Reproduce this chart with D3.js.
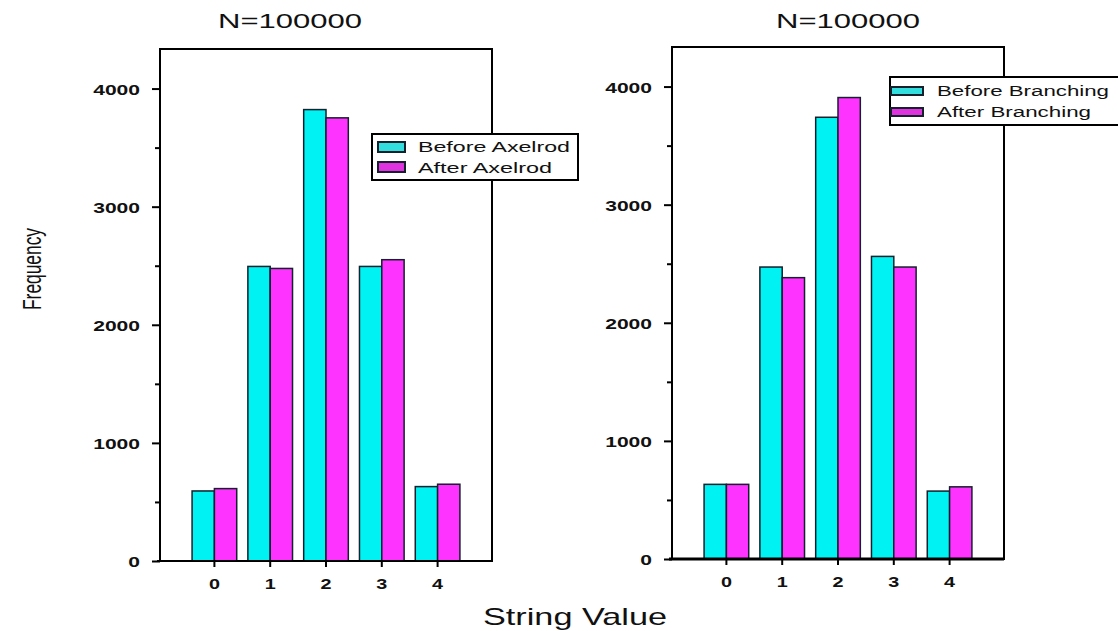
<!DOCTYPE html>
<html>
<head>
<meta charset="utf-8">
<script src="https://cdn.jsdelivr.net/npm/d3@7"></script>
<style>
  html, body { margin: 0; padding: 0; background: #fff; }
  svg { display: block; }
  text { font-family: "Liberation Sans", Arial, sans-serif; fill: #111; }
</style>
</head>
<body>
<svg id="chart" width="1118" height="631"></svg>
<script>
// ---- data ----
const categories = ["0", "1", "2", "3", "4"];
const beforeAxelrod   = [593, 2494, 3822, 2494, 630];
const afterAxelrod    = [613, 2477, 3752, 2551, 650];
const beforeBranching = [632, 2472, 3740, 2562, 575];
const afterBranching  = [632, 2382, 3907, 2472, 611];
const yTicks = [0, 1000, 2000, 3000, 4000];
const yMinorTicks = [500, 1500, 2500, 3500];
const panelTitles = ["N=100000", "N=100000"];
const legendLeft = ["Before Axelrod", "After Axelrod"];
const legendRight = ["Before Branching", "After Branching"];

const colors = ["#00f2f2", "#ff33ff"];
const legendColors = ["#33dede", "#de33de"];

const svg = d3.select("#chart");

function panel(opts) {
  const { left, right, top, bottom, series, title, titleX, legend, legendBox, bottomWidth } = opts;
  const g = svg.append("g");
  const y = d3.scaleLinear().domain([0, 4335]).range([bottom, top]);
  const x = d3.scaleBand().domain(categories).range([left, right])
    .paddingInner(0.2).paddingOuter(0.575);
  const xi = d3.scaleBand().domain([0, 1]).range([0, x.bandwidth()]);

  // bars
  series.forEach((vals, si) => {
    g.append("g").selectAll("rect").data(vals).join("rect")
      .attr("x", (d, i) => x(categories[i]) + xi(si))
      .attr("width", xi.bandwidth())
      .attr("y", d => y(d))
      .attr("height", d => y(0) - y(d))
      .attr("fill", colors[si])
      .attr("stroke", "#14202c")
      .attr("stroke-width", 1.5);
  });

  // frame
  g.append("rect")
    .attr("x", left).attr("y", top)
    .attr("width", right - left).attr("height", bottom - top)
    .attr("fill", "none").attr("stroke", "#000").attr("stroke-width", 2);
  g.append("line")
    .attr("x1", left - 3).attr("x2", right)
    .attr("y1", bottom).attr("y2", bottom)
    .attr("stroke", "#000").attr("stroke-width", bottomWidth);

  // y axis
  const ya = g.append("g").attr("transform", `translate(${left},0)`)
    .call(d3.axisLeft(y).tickValues(yTicks).tickFormat(d3.format("d"))
      .tickSize(8).tickPadding(12));
  ya.select(".domain").remove();
  ya.selectAll("line").attr("stroke", "#000").attr("stroke-width", 2);
  ya.selectAll("text")
    .attr("dy", "0.42em")
    .style("font-size", "14px").style("font-weight", "bold")
    .attr("textLength", function () { return this.textContent.length * 11.7; })
    .attr("lengthAdjust", "spacingAndGlyphs");
  const ym = g.append("g").attr("transform", `translate(${left},0)`)
    .call(d3.axisLeft(y).tickValues(yMinorTicks).tickSize(5).tickFormat(""));
  ym.select(".domain").remove();
  ym.selectAll("line").attr("stroke", "#000").attr("stroke-width", 2);

  // x axis
  const xa = g.append("g").attr("transform", `translate(0,${bottom})`)
    .call(d3.axisBottom(x).tickSize(6).tickPadding(11));
  xa.select(".domain").remove();
  xa.selectAll("line").attr("stroke", "#000").attr("stroke-width", 2);
  xa.selectAll("text")
    .style("font-size", "15px").style("font-weight", "bold")
    .attr("textLength", 11)
    .attr("lengthAdjust", "spacingAndGlyphs");

  // title
  g.append("text")
    .attr("x", titleX).attr("y", 28)
    .attr("text-anchor", "middle")
    .style("font-size", "20px")
    .attr("textLength", 144).attr("lengthAdjust", "spacingAndGlyphs")
    .text(title);

  // legend
  const lb = legendBox;
  const lg = g.append("g");
  lg.append("rect")
    .attr("x", lb.x).attr("y", lb.y).attr("width", lb.w).attr("height", lb.h)
    .attr("fill", "#fff").attr("stroke", "#000").attr("stroke-width", 2);
  legend.forEach((name, i) => {
    lg.append("rect")
      .attr("x", lb.sx).attr("y", lb.sy[i])
      .attr("width", lb.sw).attr("height", lb.sh)
      .attr("fill", legendColors[i]).attr("stroke", "#14202c").attr("stroke-width", 2);
    lg.append("text")
      .attr("x", lb.tx).attr("y", lb.ty[i])
      .style("font-size", "14px")
      .attr("textLength", lb.tl[i]).attr("lengthAdjust", "spacingAndGlyphs")
      .text(name);
  });
}

panel({
  left: 160, right: 492, top: 49, bottom: 561,
  series: [beforeAxelrod, afterAxelrod],
  title: panelTitles[0], titleX: 290,
  legend: legendLeft,
  bottomWidth: 2,
  legendBox: { x: 372, y: 134, w: 206, h: 46, sx: 378, sy: [142, 162], sw: 27, sh: 10,
               tx: 418, ty: [152, 173], tl: [152, 134] }
});

panel({
  left: 672, right: 1004, top: 47, bottom: 559,
  series: [beforeBranching, afterBranching],
  title: panelTitles[1], titleX: 848,
  legend: legendRight,
  bottomWidth: 3,
  legendBox: { x: 890, y: 77, w: 240, h: 48, sx: 891, sy: [87, 108], sw: 32, sh: 8,
               tx: 937, ty: [96, 117], tl: [172, 154] }
});

// shared axis labels
svg.append("text")
  .attr("transform", "translate(41,310) rotate(-90)")
  .style("font-size", "26px")
  .attr("textLength", 82).attr("lengthAdjust", "spacingAndGlyphs")
  .text("Frequency");

svg.append("text")
  .attr("x", 575).attr("y", 625)
  .attr("text-anchor", "middle")
  .style("font-size", "24px")
  .attr("textLength", 184).attr("lengthAdjust", "spacingAndGlyphs")
  .text("String Value");
</script>
</body>
</html>
